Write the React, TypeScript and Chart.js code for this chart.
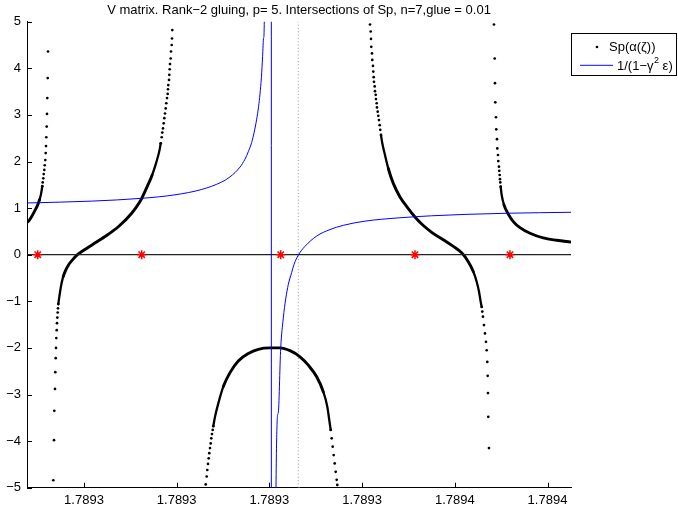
import React, { useEffect, useRef } from 'react';
import { Chart, registerables } from 'chart.js';

Chart.register(...registerables);

const FONT = '"Liberation Sans", Arial, Helvetica, sans-serif';

const TITLE = 'V matrix. Rank\u22122 gluing, p= 5. Intersections of Sp, n=7,glue = 0.01';
const X_MIN = 1.789303851;
const X_MAX = 1.789362535;
const xTickValues = [1.78931, 1.78932, 1.78933, 1.78934, 1.78935, 1.78936];
const xTickLabels = ['1.7893', '1.7893', '1.7893', '1.7893', '1.7894', '1.7894'];
const yTickValues = [-5, -4, -3, -2, -1, 0, 1, 2, 3, 4, 5];

// Sp(alpha(zeta)) : isolated sample dots on the steep parts of each branch
const spDots1: [number, number][] = [
  [1.789305502, 1.47], [1.789305545, 1.55], [1.78930561, 1.64], [1.789305653, 1.73],
  [1.789305718, 1.82], [1.789305761, 1.92], [1.789305825, 2.03], [1.789305869, 2.18],
  [1.789305901, 2.33], [1.789305933, 2.52], [1.789305976, 2.75], [1.789306009, 3.02],
  [1.789306041, 3.36], [1.789306084, 3.79], [1.789306117, 4.36],
];
const spDots2Low: [number, number][] = [
  [1.789306688, -4.84], [1.789306764, -3.98], [1.789306796, -3.35], [1.789306872, -2.88],
  [1.789306904, -2.52], [1.789306947, -2.22], [1.78930698, -2.0], [1.789307012, -1.79],
  [1.789307055, -1.62], [1.789307088, -1.47], [1.78930712, -1.35], [1.789307163, -1.24],
  [1.789307195, -1.15], [1.789307228, -1.06],
];
const spDots2High: [number, number][] = [
  [1.789318274, 2.39], [1.789318382, 2.52], [1.789318446, 2.62], [1.789318522, 2.71],
  [1.789318597, 2.82], [1.789318662, 2.93], [1.789318737, 3.03], [1.789318813, 3.14],
  [1.789318878, 3.25], [1.789318953, 3.36], [1.789319029, 3.45], [1.789319061, 3.55],
  [1.789319093, 3.64], [1.789319169, 3.75], [1.789319201, 3.86], [1.789319244, 3.98],
  [1.789319277, 4.09], [1.789319352, 4.21], [1.789319385, 4.36], [1.78931946, 4.5],
  [1.789319493, 4.64], [1.789319525, 4.82],
];
const spDots3Left: [number, number][] = [
  [1.789323128, -4.93], [1.789323236, -4.76], [1.7893233, -4.62], [1.789323376, -4.49],
  [1.789323451, -4.37], [1.789323516, -4.26], [1.789323592, -4.15], [1.789323667, -4.05],
  [1.789323732, -3.94], [1.789323807, -3.85], [1.789323883, -3.76], [1.789323948, -3.68],
];
const spDots3Right: [number, number][] = [
  [1.789336612, -3.76], [1.78933672, -3.94], [1.789336827, -4.12], [1.789336935, -4.3],
  [1.789337043, -4.48], [1.789337151, -4.66], [1.789337259, -4.83], [1.789337323, -4.94],
];
const spDots4High: [number, number][] = [
  [1.789340851, 4.94], [1.789340927, 4.79], [1.789340959, 4.63], [1.789340991, 4.46],
  [1.789341067, 4.32], [1.789341099, 4.18], [1.789341174, 4.05], [1.789341207, 3.93],
  [1.78934125, 3.81], [1.789341282, 3.71], [1.789341358, 3.61], [1.78934139, 3.51],
  [1.789341466, 3.43], [1.789341498, 3.34], [1.789341574, 3.25], [1.789341606, 3.16],
  [1.789341682, 3.07], [1.789341747, 2.98], [1.789341822, 2.89], [1.789341898, 2.78],
  [1.789341962, 2.68], [1.789342037, 2.57],
];
const spDots4Low: [number, number][] = [
  [1.7893529, -1.12], [1.789352965, -1.22], [1.78935304, -1.33], [1.789353148, -1.51],
  [1.789353256, -1.69], [1.789353364, -1.87], [1.789353439, -2.05], [1.789353504, -2.3],
  [1.789353547, -2.6], [1.789353579, -2.97], [1.789353612, -3.48], [1.789353687, -4.15],
];
const spDots5: [number, number][] = [
  [1.789354227, 4.94], [1.789354302, 4.21], [1.789354335, 3.68], [1.789354367, 3.27],
  [1.789354442, 2.95], [1.789354475, 2.69], [1.78935455, 2.48], [1.789354582, 2.28],
  [1.789354658, 2.14], [1.78935469, 2.01], [1.789354766, 1.89], [1.789354798, 1.8],
  [1.789354841, 1.71], [1.789354874, 1.62], [1.789354906, 1.55], [1.789354949, 1.46],
];

// Sp(alpha(zeta)) : densely sampled (merged) parts of each branch
const spCurve1: [number, number][] = [
  [1.789303851, 0.69], [1.789304067, 0.73], [1.789304358, 0.82], [1.789304714, 0.95],
  [1.789305006, 1.07], [1.7893052, 1.18], [1.789305362, 1.3], [1.789305502, 1.47],
];
const spCurve2: [number, number][] = [
  [1.789307228, -1.06], [1.789307325, -0.92], [1.789307433, -0.78], [1.789307573, -0.62],
  [1.789307756, -0.47], [1.789308004, -0.34], [1.789308328, -0.22], [1.789308759, -0.11],
  [1.789309299, 0.0], [1.78931, 0.1], [1.789310863, 0.21], [1.789312265, 0.39],
  [1.7893137, 0.6], [1.789315145, 0.89], [1.789316041, 1.14], [1.789316763, 1.44],
  [1.789317335, 1.7], [1.789317767, 1.96], [1.789318166, 2.26], [1.789318274, 2.39],
];
const spCurve3: [number, number][] = [
  [1.789323948, -3.68], [1.789324131, -3.48], [1.789324487, -3.19], [1.789325026, -2.83],
  [1.789325749, -2.53], [1.789326644, -2.28], [1.789327723, -2.12], [1.789328802, -2.03],
  [1.789330064, -2.0], [1.789331143, -2.0], [1.789332221, -2.06], [1.7893333, -2.19],
  [1.789334195, -2.37], [1.789335101, -2.62], [1.789335813, -2.94], [1.789336245, -3.26],
  [1.789336461, -3.55], [1.789336612, -3.76],
];
const spCurve4: [number, number][] = [
  [1.789342037, 2.57], [1.789342178, 2.39], [1.789342469, 2.14], [1.789342825, 1.85],
  [1.789343364, 1.53], [1.789344087, 1.24], [1.789344982, 0.99], [1.789345705, 0.81],
  [1.789346428, 0.66], [1.789347506, 0.48], [1.789348758, 0.32], [1.789349837, 0.18],
  [1.789350743, 0.04], [1.789351455, -0.15], [1.789351994, -0.36], [1.789352361, -0.58],
  [1.789352609, -0.79], [1.789352792, -1.01], [1.7893529, -1.12],
];
const spCurve5: [number, number][] = [
  [1.789354949, 1.46], [1.789355057, 1.28], [1.789355305, 1.07], [1.789355769, 0.87],
  [1.789356308, 0.71], [1.789357031, 0.58], [1.78935811, 0.46], [1.789359545, 0.36],
  [1.78936099, 0.31], [1.789362535, 0.27],
];

// 1/(1 - gamma^2 eps)
const blueLeft: [number, number][] = [
  [1.789303851, 1.11], [1.789310831, 1.15], [1.789316224, 1.21], [1.789319816, 1.285],
  [1.789322696, 1.4], [1.789324854, 1.56], [1.789325749, 1.67], [1.789326828, 1.88],
  [1.789327367, 2.05], [1.789327745, 2.22], [1.78932809, 2.41], [1.78932836, 2.63],
  [1.789328629, 2.91], [1.789328834, 3.18], [1.789328985, 3.45], [1.789329136, 3.8],
  [1.789329265, 4.25], [1.789329373, 4.65], [1.789329449, 5.0], [1.789330204, 400],
];
const blueRight: [number, number][] = [
  [1.789330215, -400], [1.789330711, -5.0], [1.789330948, -3.4], [1.789331218, -2.01],
  [1.789331499, -1.36], [1.789331758, -0.95], [1.789332038, -0.64], [1.789332405, -0.38],
  [1.789332653, -0.21], [1.789333117, -0.01], [1.789333839, 0.18], [1.789335101, 0.4],
  [1.789336536, 0.54], [1.789337971, 0.63], [1.789340311, 0.72], [1.789343904, 0.79],
  [1.789347506, 0.835], [1.789351098, 0.865], [1.789355769, 0.89], [1.789362535, 0.91],
];

// intersection markers on y = 0
const starX = [1.789305006, 1.789316224, 1.789331218, 1.789345705, 1.789355953];
const DOTTED_X = 1.789333117;

const pts = (a: [number, number][]) => a.map(([x, y]) => ({ x, y }));
const joinBranches = (...bs: [number, number][][]) => {
  const out: any[] = [];
  bs.forEach((b, i) => {
    if (i > 0) out.push({ x: (b[0][0] + bs[i - 1][bs[i - 1].length - 1][0]) / 2, y: null });
    out.push(...pts(b));
  });
  return out;
};

const decorPlugin = {
  id: 'decor',
  afterDatasetsDraw(chart: any) {
    const { ctx, chartArea, scales } = chart;
    const { left, bottom } = chartArea;
    ctx.save();
    ctx.strokeStyle = '#000';
    ctx.lineWidth = 1;
    ctx.beginPath();
    yTickValues.forEach((v) => {
      const y = Math.round(scales.y.getPixelForValue(v)) + 0.5;
      ctx.moveTo(left, y);
      ctx.lineTo(left + 5, y);
    });
    xTickValues.forEach((v) => {
      const x = Math.round(scales.x.getPixelForValue(v)) + 0.5;
      ctx.moveTo(x, bottom);
      ctx.lineTo(x, bottom - 5);
    });
    ctx.stroke();
    ctx.restore();
  },
  afterDraw(chart: any) {
    const { ctx, chartArea } = chart;
    ctx.save();
    // title
    ctx.fillStyle = '#000';
    ctx.font = `13px ${FONT}`;
    ctx.textAlign = 'center';
    ctx.textBaseline = 'middle';
    ctx.fillText(TITLE, (chartArea.left + chartArea.right) / 2, 10);

    // legend
    const bx = 571.5, by = 33.5, bw = 105, bh = 42;
    ctx.fillStyle = '#fff';
    ctx.fillRect(bx, by, bw, bh);
    ctx.strokeStyle = '#000';
    ctx.lineWidth = 1;
    ctx.strokeRect(bx, by, bw, bh);
    const r1 = 47, r2 = 65;
    ctx.fillStyle = '#000';
    ctx.beginPath();
    ctx.arc(597, r1, 1.35, 0, Math.PI * 2);
    ctx.fill();
    ctx.strokeStyle = '#3a3aff';
    ctx.lineWidth = 1.3;
    ctx.beginPath();
    ctx.moveTo(580, r2 + 0.3);
    ctx.lineTo(613, r2 + 0.3);
    ctx.stroke();
    ctx.fillStyle = '#000';
    ctx.textAlign = 'left';
    ctx.textBaseline = 'middle';
    ctx.font = `13px ${FONT}`;
    ctx.fillText('Sp(\u03b1(\u03b6))', 609, r1);
    const t1 = '1/(1\u2212\u03b3';
    ctx.fillText(t1, 617, r2 + 1);
    const w1 = ctx.measureText(t1).width;
    ctx.font = `9px ${FONT}`;
    ctx.fillText('2', 617 + w1 + 0.5, r2 - 4);
    const w2 = ctx.measureText('2').width;
    ctx.font = `13px ${FONT}`;
    ctx.fillText(' \u03b5)', 617 + w1 + w2 + 0.5, r2 + 1);
    ctx.restore();
  },
};

const steep = (c: any) =>
  Math.abs(c.p1.y - c.p0.y) > 3 * Math.abs(c.p1.x - c.p0.x);

export default function App() {
  const ref = useRef<HTMLCanvasElement | null>(null);
  useEffect(() => {
    if (!ref.current) return;
    const spDotsAll = [
      ...spDots1, ...spDots2Low, ...spDots2High, ...spDots3Left, ...spDots3Right,
      ...spDots4High, ...spDots4Low, ...spDots5,
    ];
    const chart = new Chart(ref.current, {
      type: 'scatter',
      data: {
        datasets: [
          {
            label: 'stars',
            data: starX.map((x) => ({ x, y: 0 })),
            showLine: false,
            pointStyle: 'star',
            pointRadius: 4.5,
            borderColor: '#ff0000',
            backgroundColor: '#ff0000',
            borderWidth: 1.5,
            order: 0,
          } as any,
          {
            label: '1/(1\u2212\u03b3\u00b2 \u03b5)',
            data: [...pts(blueLeft), ...pts(blueRight)],
            showLine: true,
            pointRadius: 0,
            borderColor: '#0000ff',
            borderWidth: 1,
            cubicInterpolationMode: 'monotone',
            order: 1,
          } as any,
          {
            label: 'zero',
            data: [{ x: X_MIN, y: 0 }, { x: X_MAX, y: 0 }],
            showLine: true,
            pointRadius: 0,
            borderColor: '#222',
            borderWidth: 1.2,
            order: 2,
          } as any,
          {
            label: 'Sp(\u03b1(\u03b6))',
            data: pts(spDotsAll),
            showLine: false,
            pointRadius: 1.35,
            pointBorderWidth: 0,
            backgroundColor: '#000',
            borderColor: '#000',
            order: 3,
          } as any,
          {
            label: 'Sp dense',
            data: joinBranches(spCurve1, spCurve2, spCurve3, spCurve4, spCurve5),
            showLine: true,
            spanGaps: false,
            pointRadius: 0,
            borderColor: '#000',
            borderWidth: 2.9,
            borderCapStyle: 'round',
            borderJoinStyle: 'round',
            cubicInterpolationMode: 'monotone',
            segment: {
              borderWidth: (c: any) => (steep(c) ? 2.3 : undefined),
            },
            order: 4,
          } as any,
          {
            label: 'dotted',
            data: [{ x: DOTTED_X, y: -5 }, { x: DOTTED_X, y: 5 }],
            showLine: true,
            pointRadius: 0,
            borderColor: '#9a9a9a',
            borderWidth: 1,
            borderDash: [1, 2.3],
            order: 5,
          } as any,
        ],
      },
      options: {
        responsive: false,
        animation: false,
        devicePixelRatio: 1,
        events: [],
        layout: { padding: { top: 21.7, right: 107, left: 0, bottom: 0 } },
        plugins: {
          legend: { display: false },
          title: { display: false },
          tooltip: { enabled: false },
        },
        scales: {
          x: {
            type: 'linear',
            min: X_MIN,
            max: X_MAX,
            grid: { display: false, drawTicks: false },
            border: { display: true, color: '#000', width: 1 },
            afterBuildTicks: (s: any) => {
              s.ticks = xTickValues.map((v) => ({ value: v }));
            },
            afterFit: (s: any) => {
              s.height = 25.3;
            },
            ticks: {
              autoSkip: false,
              maxRotation: 0,
              padding: 5,
              color: '#000',
              font: { family: FONT, size: 13 },
              callback: (_v: any, i: number) => xTickLabels[i],
            },
          },
          y: {
            type: 'linear',
            min: -5,
            max: 5,
            grid: { display: false, drawTicks: false },
            border: { display: true, color: '#000', width: 1 },
            afterBuildTicks: (s: any) => {
              s.ticks = yTickValues.map((v) => ({ value: v }));
            },
            afterFit: (s: any) => {
              s.width = 27;
            },
            ticks: {
              padding: 6,
              color: '#000',
              font: { family: FONT, size: 13 },
              callback: (v: any) => (v < 0 ? '\u2212' + Math.abs(v) : String(v)),
            },
          },
        },
      },
      plugins: [decorPlugin],
    });
    return () => chart.destroy();
  }, []);
  return (
    <div style={{ position: 'absolute', left: 0, top: 0 }}>
      <canvas ref={ref} width={678} height={513} style={{ display: 'block', width: 678, height: 513 }} />
    </div>
  );
}
